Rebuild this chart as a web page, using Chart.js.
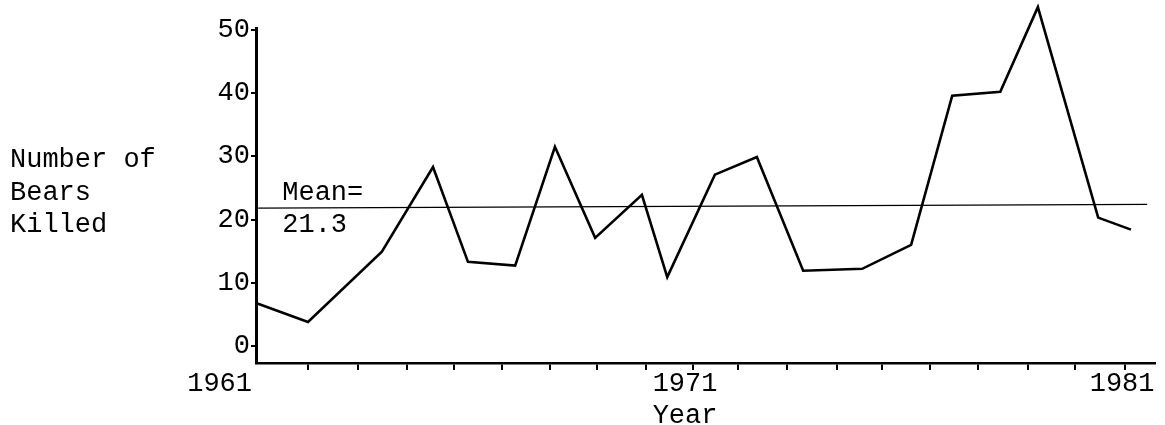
<!DOCTYPE html>
<html>
<head>
<meta charset="utf-8">
<title>Number of Bears Killed</title>
<script src="https://cdn.jsdelivr.net/npm/chart.js@4/dist/chart.umd.min.js"></script>
<style>
  html, body { margin: 0; padding: 0; background: #fff; }
</style>
</head>
<body>
<canvas id="chart" width="1165" height="425"></canvas>
<script>
(function() {
  'use strict';

  // ── Data ────────────────────────────────────────────────────
  const years = [1961.00, 1962.19, 1963.88, 1965.05, 1965.85, 1966.93, 1967.84, 1968.76, 1969.83, 1970.41,
                 1971.50, 1972.46, 1973.52, 1974.87, 1975.99, 1976.93, 1978.03, 1978.89, 1980.27, 1981.02];
  const bearsKilled = [6.8, 3.8, 14.9, 28.3, 13.3, 12.7, 31.5, 17.1, 23.9, 10.9,
                       27.1, 29.9, 11.9, 12.2, 16.0, 39.6, 40.2, 53.6, 20.3, 18.4];

  // hand-drawn mean line, slightly tilted in the original
  const meanLineYears = [1961.05, 1981.39];
  const meanLineLevel = [21.8, 22.4];
  const meanText = ['Mean=', '21.3'];

  const yTickValues = [0, 10, 20, 30, 40, 50];
  const xTickMarks = [1962.19, 1963.33, 1964.45, 1965.53, 1966.63, 1967.73, 1968.80, 1969.92, 1971.00,
                      1972.03, 1973.15, 1974.29, 1975.32, 1976.42, 1977.52, 1978.66, 1979.73, 1980.88];
  const xLabelYears = [1961, 1971, 1981];
  const yTitleLines = ['Number of', 'Bears', 'Killed'];
  const xTitle = 'Year';

  const FONT = '27px "Liberation Mono", "DejaVu Sans Mono", monospace';

  // ── Text drawn on top of the chart ──────────────────────────
  const textPlugin = {
    id: 'figureText',
    afterDraw(chart) {
      const ctx = chart.ctx;
      const xs = chart.scales.x;
      const ys = chart.scales.y;
      ctx.save();
      ctx.font = FONT;
      ctx.fillStyle = '#000';
      ctx.textBaseline = 'alphabetic';

      // y axis title, three lines at the left
      ctx.textAlign = 'left';
      yTitleLines.forEach((t, i) => ctx.fillText(t, 10, 167 + i * 32.5));

      // mean annotation
      ctx.fillText(meanText[0], xs.getPixelForValue(1961.6), ys.getPixelForValue(23.1));
      ctx.fillText(meanText[1], xs.getPixelForValue(1961.6), ys.getPixelForValue(18.0));

      // year labels; the first sits left of the origin
      xLabelYears.forEach((yr, i) => {
        const px = xs.getPixelForValue(yr);
        if (i === 0) {
          ctx.textAlign = 'right';
          ctx.fillText(String(yr), px - 4, 391);
        } else {
          ctx.textAlign = 'center';
          ctx.fillText(String(yr), px - 8, 391);
        }
      });

      ctx.textAlign = 'center';
      ctx.fillText(xTitle, xs.getPixelForValue(xLabelYears[1]) - 8, 423);
      ctx.restore();
    }
  };

  const ctx = document.getElementById('chart').getContext('2d');
  new Chart(ctx, {
    type: 'line',
    data: {
      datasets: [
        {
          data: years.map((x, i) => ({ x: x, y: bearsKilled[i] })),
          borderColor: '#000',
          borderWidth: 2.6,
          pointRadius: 0,
          tension: 0,
          clip: false
        },
        {
          data: meanLineYears.map((x, i) => ({ x: x, y: meanLineLevel[i] })),
          borderColor: '#000',
          borderWidth: 1.4,
          pointRadius: 0,
          clip: false
        }
      ]
    },
    options: {
      responsive: false,
      devicePixelRatio: 1,
      animation: false,
      layout: { padding: { top: 28, right: 10, left: 0, bottom: 0 } },
      plugins: {
        legend: { display: false },
        tooltip: { enabled: false }
      },
      scales: {
        x: {
          type: 'linear',
          min: 1961,
          max: 1981.57,
          afterBuildTicks: s => { s.ticks = xTickMarks.map(v => ({ value: v })); },
          afterFit: s => { s.height = 62; },
          ticks: { display: false },
          grid: { drawOnChartArea: false, tickLength: 7, color: '#000', lineWidth: 2 },
          border: { display: true, color: '#000', width: 2.5 }
        },
        y: {
          min: -2.7,
          max: 50.3,
          afterBuildTicks: s => { s.ticks = yTickValues.map(v => ({ value: v })); },
          afterFit: s => { s.width = 256; },
          ticks: {
            color: '#000',
            font: { family: '"Liberation Mono", "DejaVu Sans Mono", monospace', size: 27 },
            padding: 1
          },
          grid: { drawOnChartArea: false, tickLength: 5, color: '#000', lineWidth: 2 },
          border: { display: true, color: '#000', width: 3 }
        }
      }
    },
    plugins: [textPlugin]
  });
})();
</script>
</body>
</html>
